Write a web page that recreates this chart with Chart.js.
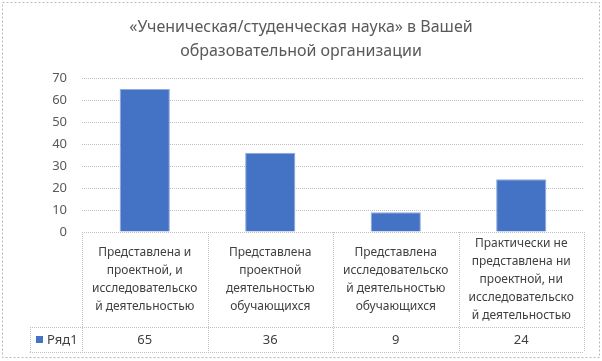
<!DOCTYPE html>
<html>
<head>
<meta charset="utf-8">
<script src="https://cdn.jsdelivr.net/npm/chart.js@4.4.0/dist/chart.umd.min.js"></script>
<style>
html,body{margin:0;padding:0;background:#fff;}
#wrap{position:relative;width:602px;height:361px;}
</style>
</head>
<body>
<div id="wrap"><canvas id="c" width="602" height="361"></canvas></div>
<script>
const titleLines = ["«Ученическая/студенческая наука» в Вашей", "образовательной организации"];
const categories = [
  ["Представлена и", "проектной, и", "исследовательско", "й деятельностью"],
  ["Представлена", "проектной", "деятельностью", "обучающихся"],
  ["Представлена", "исследовательско", "й деятельностью", "обучающихся"],
  ["Практически не", "представлена ни", "проектной, ни", "исследовательско", "й деятельностью"]
];
const seriesName = "Ряд1";
const values = [65, 36, 9, 24];
const yTicks = [0, 10, 20, 30, 40, 50, 60, 70];

const FONT = "'Noto Sans', 'Open Sans', sans-serif";
const BAR = '#4472C4';
const GRID = '#c0c0c0';

function dottedLine(ctx, x1, y1, x2, y2) {
  ctx.save();
  ctx.strokeStyle = GRID;
  ctx.lineWidth = 1;
  ctx.setLineDash([1, 1]);
  ctx.beginPath();
  ctx.moveTo(x1, y1);
  ctx.lineTo(x2, y2);
  ctx.stroke();
  ctx.restore();
}

const tablePlugin = {
  id: 'tablePlugin',
  afterDraw(chart) {
    const ctx = chart.ctx;
    const xs = chart.scales.x;
    const area = chart.chartArea;
    const n = categories.length;
    const step = (area.right - area.left) / n;
    const top = area.bottom;
    const rowY = top + 95;
    const bottom = rowY + 25;
    const legendLeft = 30;

    // outer border
    ctx.save();
    ctx.strokeStyle = '#b8b8b8';
    ctx.lineWidth = 1;
    ctx.setLineDash([2, 2]);
    ctx.strokeRect(2.5, 2.5, 597, 355);
    ctx.restore();

    // title
    ctx.save();
    ctx.fillStyle = '#595959';
    ctx.font = "16px " + FONT;
    ctx.textAlign = 'center';
    ctx.textBaseline = 'middle';
    ctx.fillText(titleLines[0], 301, 27);
    ctx.fillText(titleLines[1], 301, 51);
    ctx.restore();

    // table lines
    for (let i = 0; i <= n; i++) {
      const x = Math.round(area.left + i * step) + 0.5;
      dottedLine(ctx, x, top, x, bottom);
    }
    dottedLine(ctx, legendLeft + 0.5, rowY, legendLeft + 0.5, bottom);
    dottedLine(ctx, legendLeft, rowY + 0.5, area.right, rowY + 0.5);
    dottedLine(ctx, legendLeft, bottom + 0.5, area.right, bottom + 0.5);

    // category labels
    ctx.save();
    ctx.fillStyle = '#404040';
    ctx.font = "12px " + FONT;
    ctx.textAlign = 'center';
    ctx.textBaseline = 'middle';
    const lh = 18;
    const midY = (top + rowY) / 2;
    categories.forEach((lines, i) => {
      const cx = xs.getPixelForValue(i);
      const y0 = midY - (lines.length - 1) * lh / 2;
      lines.forEach((t, j) => ctx.fillText(t, cx, y0 + j * lh));
    });
    // values row
    ctx.font = "13px " + FONT;
    values.forEach((v, i) => {
      ctx.fillText(String(v), xs.getPixelForValue(i), (rowY + bottom) / 2 + 1);
    });
    // legend key
    ctx.fillStyle = BAR;
    ctx.fillRect(36, rowY + 9, 7, 7);
    ctx.fillStyle = '#404040';
    ctx.textAlign = 'left';
    ctx.fillText(seriesName, 47, (rowY + bottom) / 2 + 1);
    ctx.restore();
  }
};

new Chart(document.getElementById('c'), {
  type: 'bar',
  data: {
    labels: categories,
    datasets: [{
      label: seriesName,
      data: values,
      backgroundColor: BAR,
      borderColor: '#8faadc',
      borderWidth: 1,
      categoryPercentage: 1,
      barPercentage: 0.4
    }]
  },
  options: {
    responsive: false,
    animation: false,
    devicePixelRatio: 1,
    layout: { padding: { top: 78, right: 18, left: 0, bottom: 0 } },
    plugins: { legend: { display: false }, title: { display: false }, tooltip: { enabled: false } },
    scales: {
      x: {
        grid: { display: false },
        border: { display: false },
        ticks: { display: false },
        afterFit(s) { s.height = 129; }
      },
      y: {
        min: 0, max: 70,
        afterBuildTicks(s) { s.ticks = yTicks.map(v => ({ value: v })); },
        grid: { color: GRID, drawTicks: false, lineWidth: 1 },
        border: { display: false, dash: [1, 1] },
        ticks: { color: '#595959', font: { family: FONT, size: 13 }, padding: 15 },
        afterFit(s) { s.width = 82; }
      }
    }
  },
  plugins: [tablePlugin]
});
</script>
</body>
</html>
